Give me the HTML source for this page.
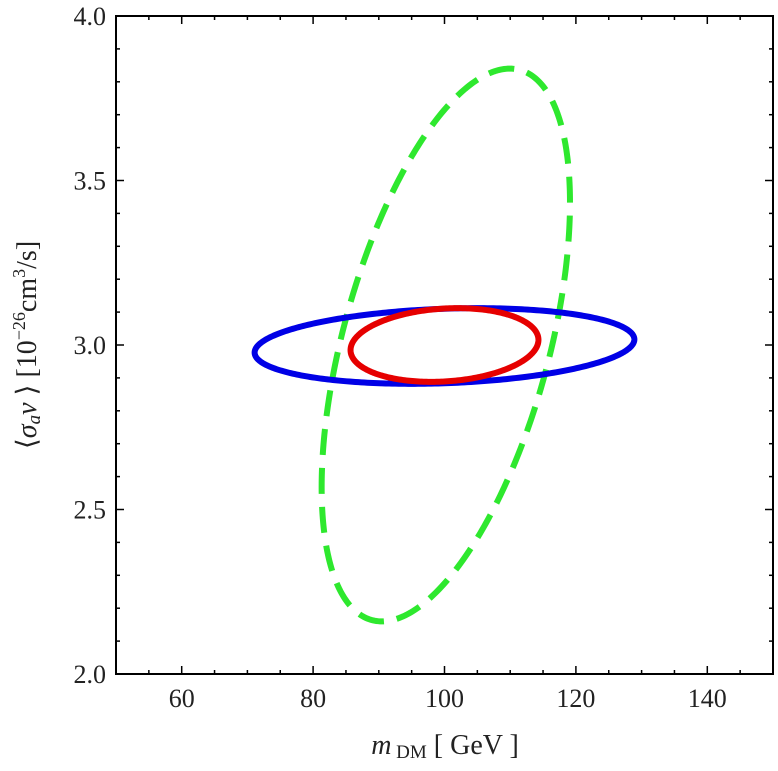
<!DOCTYPE html>
<html><head><meta charset="utf-8"><style>
html,body{margin:0;padding:0;background:#fff;}
svg text{font-family:"Liberation Serif",serif;fill:#222;}
</style></head><body>
<svg id="chart" width="778" height="766" xmlns="http://www.w3.org/2000/svg">
<g id="ticks"></g>
<g id="marks"></g>
<rect x="116" y="16" width="657" height="658" fill="none" stroke="#000" stroke-width="2"/>
<text x="445" y="754" font-size="28" text-anchor="middle"><tspan font-style="italic">m</tspan><tspan font-size="19" dy="4"> DM</tspan><tspan dy="-4">  [ GeV ]</tspan></text>
<text transform="translate(36,345) rotate(-90)" font-size="28" text-anchor="middle">⟨<tspan font-style="italic">σ</tspan><tspan font-style="italic" font-size="19" dy="4">a</tspan><tspan font-style="italic" dy="-4">v</tspan> ⟩ [10<tspan font-size="18" dy="-11">−26</tspan><tspan dy="11">cm</tspan><tspan font-size="18" dy="-11">3</tspan><tspan dy="11">/s]</tspan></text>
</svg>
<script>
const xTicks=[60,80,100,120,140];
const yTicks=[2.0,2.5,3.0,3.5,4.0];
const ellNames=["green-dashed","blue","red"];
const ellCx=[100.2,100,100];
const ellCy=[3.0,2.997,3.0];
const ellA=[18.9,28.9,14.3];
const ellB=[0.84,0.115,0.112];
const ellPhiDeg=[31,10,8];
const ellColors=["#2ee82e","#0000e6","#e60000"];
const ellDash=["26 13","",""];
const L=116,R=773,T=16,B=674;
const X=v=>L+(v-50)/100*(R-L);
const Y=v=>B-(v-2)/2*(B-T);
const NS="http://www.w3.org/2000/svg";
const tg=document.getElementById('ticks');
function line(x1,y1,x2,y2){const l=document.createElementNS(NS,'line');
l.setAttribute('x1',x1);l.setAttribute('y1',y1);l.setAttribute('x2',x2);l.setAttribute('y2',y2);
l.setAttribute('stroke','#000');l.setAttribute('stroke-width','1.5');


tg.appendChild(l);}
for(let v=55;v<150;v+=5){const x=X(v);const len=(v%20===0)?8:4;line(x,B,x,B-len);line(x,T,x,T+len);}
for(let i=1;i<20;i++){const v=2+i*0.1;const y=Y(v);const len=(i%5===0)?8:4;line(L,y,L+len,y);line(R,y,R-len,y);}
xTicks.forEach(v=>{const t=document.createElementNS(NS,'text');t.setAttribute('x',X(v));t.setAttribute('y',707);
t.setAttribute('font-size','26');t.setAttribute('text-anchor','middle');t.textContent=v;


tg.appendChild(t);});
yTicks.forEach(v=>{const t=document.createElementNS(NS,'text');t.setAttribute('x',106);t.setAttribute('y',Y(v)+9);
t.setAttribute('font-size','26');t.setAttribute('text-anchor','end');t.textContent=v.toFixed(1);


tg.appendChild(t);});
const mg=document.getElementById('marks');
ellNames.forEach((n,i)=>{let d='';const phi=ellPhiDeg[i]*Math.PI/180;
for(let k=0;k<=360;k++){const t=k*Math.PI/180;const x=ellCx[i]+ellA[i]*Math.cos(t);const y=ellCy[i]+ellB[i]*Math.sin(t+phi);
d+=(k?'L':'M')+X(x).toFixed(2)+','+Y(y).toFixed(2);}
const p=document.createElementNS(NS,'path');p.setAttribute('d',d+'Z');p.setAttribute('fill','none');
p.setAttribute('stroke',ellColors[i]);p.setAttribute('stroke-width','6');
if(ellDash[i])p.setAttribute('stroke-dasharray',ellDash[i]);


mg.appendChild(p);});
</script>
</body></html>
